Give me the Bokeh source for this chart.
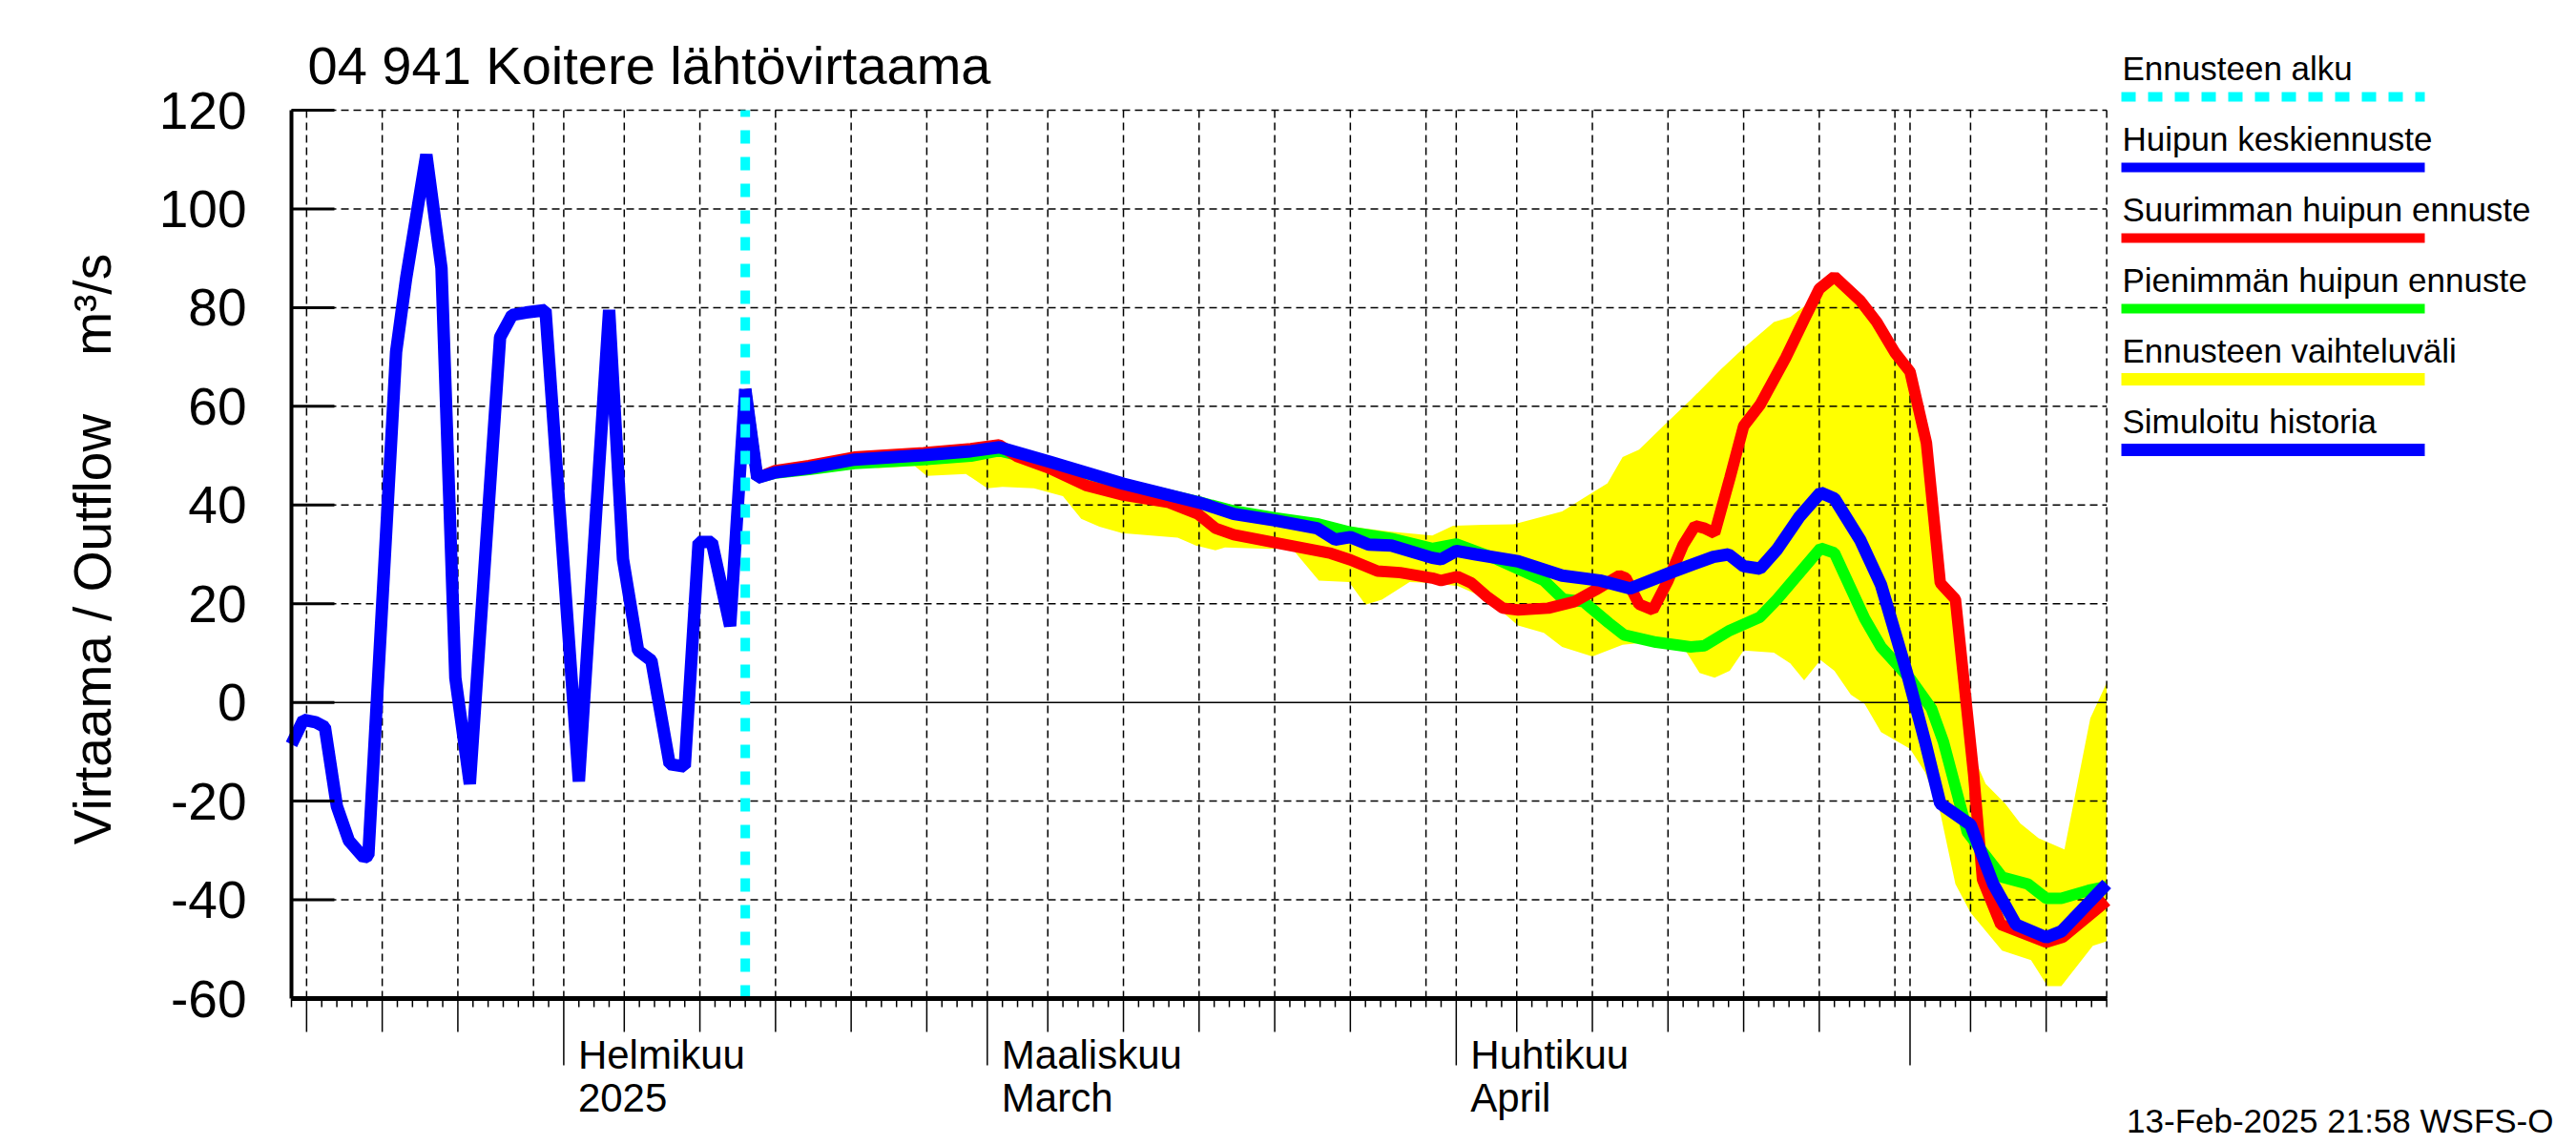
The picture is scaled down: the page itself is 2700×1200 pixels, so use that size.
import datetime as dt
from bokeh.plotting import figure
from bokeh.models import Range1d, FixedTicker
from bokeh.core.properties import value
from bokeh.embed import file_html
from bokeh.resources import INLINE

# ---------------- texts ----------------
TITLE = "04 941 Koitere lähtövirtaama"
Y_LABEL = "\u00a0\u00a0\u00a0Virtaama / Outflow\u00a0\u00a0\u00a0\u00a0m³/s"
STAMP = "13-Feb-2025 21:58 WSFS-O"
LEGEND_LABELS = ["Ennusteen alku", "Huipun keskiennuste", "Suurimman huipun ennuste",
                 "Pienimmän huipun ennuste", "Ennusteen vaihteluväli", "Simuloitu historia"]
MONTH_TICKS = ["02-01 00:00", "03-01 00:00", "04-01 00:00"]
MONTH_LINE1 = ["Helmikuu", "Maaliskuu", "Huhtikuu"]
MONTH_LINE2 = ["2025", "March", "April"]
Y_TICKS = [-60, -40, -20, 0, 20, 40, 60, 80, 100, 120]
START = "01-14 00:00"
END = "05-14 00:00"
FORECAST_START = "02-13 00:00"

# ---------------- data ----------------
hist_time = ["01-14 00:00", "01-14 19:00", "01-15 14:00", "01-16 05:00", "01-17 00:00", "01-17 19:00",
             "01-18 19:00", "01-19 02:00", "01-20 22:00", "01-21 14:00", "01-22 22:00", "01-23 22:00",
             "01-24 20:00", "01-25 19:00", "01-27 19:00", "01-28 14:00", "01-29 12:00", "01-30 19:00",
             "02-02 00:00", "02-04 00:00", "02-04 22:00", "02-05 22:00", "02-06 19:00", "02-08 00:00",
             "02-09 00:00", "02-09 22:00", "02-10 19:00", "02-12 00:00", "02-13 00:00"]
hist_flow = [-8.5, -3.5, -4.0, -5.0, -21, -28, -31.5, -31, 71, 86, 111, 88, 5, -16.5, 74, 78.5, 79,
             79.5, -16, 79.5, 29, 10.5, 8.5, -12.5, -13, 32.5, 32.5, 15.5, 63.5]

mean_time = ["02-13 00:00", "02-13 19:00", "02-15 00:00", "02-17 05:00", "02-20 05:00", "02-24 19:00",
             "02-27 22:00", "03-01 19:00", "03-05 02:00", "03-10 00:00", "03-15 00:00", "03-17 07:00",
             "03-20 00:00", "03-22 19:00", "03-24 00:00", "03-25 00:00", "03-26 05:00", "03-27 17:00",
             "03-30 10:00", "03-31 00:00", "04-01 00:00", "04-02 07:00", "04-05 02:00", "04-08 00:00",
             "04-10 12:00", "04-12 12:00", "04-15 02:00", "04-18 00:00", "04-19 00:00", "04-20 00:00",
             "04-21 02:00", "04-22 05:00", "04-23 17:00", "04-25 02:00", "04-26 00:00", "04-27 17:00",
             "04-29 02:00", "04-30 19:00", "05-02 00:00", "05-03 00:00", "05-05 00:00", "05-06 12:00",
             "05-08 00:00", "05-10 00:00", "05-11 00:00", "05-14 00:00"]
mean_flow = [63.5, 45.5, 46.6, 47.5, 49.2, 50.1, 50.9, 51.7, 48.8, 44.3, 40.5, 38.2, 36.9, 35.3, 33.0,
             33.5, 32.0, 31.8, 29.3, 29.0, 30.7, 30.0, 28.6, 25.7, 24.7, 23.1, 26.2, 29.5, 30.0, 27.6,
             27.1, 31.0, 37.7, 42.5, 41.3, 32.9, 23.8, 6.0, -8.0, -20.5, -24.8, -36.8, -45.0, -47.6,
             -46.4, -36.8]

max_time = ["02-13 00:00", "02-13 19:00", "02-15 00:00", "02-17 05:00", "02-20 05:00", "02-24 19:00",
            "02-27 22:00", "03-01 19:00", "03-03 00:00", "03-05 02:00", "03-07 12:00", "03-10 00:00",
            "03-13 00:00", "03-14 22:00", "03-16 02:00", "03-17 07:00", "03-20 00:00", "03-23 17:00",
            "03-25 00:00", "03-26 19:00", "03-28 07:00", "03-30 10:00", "03-31 00:00", "04-01 02:00",
            "04-02 00:00", "04-03 02:00", "04-04 02:00", "04-05 02:00", "04-07 02:00", "04-08 19:00",
            "04-10 05:00", "04-11 19:00", "04-12 05:00", "04-13 02:00", "04-14 00:00", "04-15 00:00",
            "04-16 00:00", "04-16 19:00", "04-17 10:00", "04-18 02:00", "04-19 02:00", "04-20 00:00",
            "04-21 02:00", "04-22 19:00", "04-24 00:00", "04-25 00:00", "04-26 00:00", "04-27 17:00",
            "04-28 19:00", "04-30 00:00", "05-01 00:00", "05-02 02:00", "05-03 00:00", "05-04 00:00",
            "05-05 05:00", "05-05 19:00", "05-07 00:00", "05-10 00:00", "05-11 02:00", "05-14 00:00"]
max_flow = [63.5, 45.5, 47.0, 48.0, 49.7, 50.6, 51.4, 52.2, 49.8, 47.5, 44.0, 42.0, 40.5, 38.2, 35.3,
            34.0, 32.4, 30.2, 28.9, 26.6, 26.3, 25.2, 24.7, 25.5, 24.2, 21.3, 19.1, 18.75, 19.1, 20.4,
            22.8, 25.7, 25.2, 19.9, 18.75, 24.7, 31.9, 35.8, 35.3, 34.3, 45.4, 56.0, 60.3, 69.9, 77.6,
            83.8, 86.3, 81.4, 77.1, 70.9, 67.0, 52.6, 24.2, 20.9, -14.7, -35.9, -45.0, -48.6, -47.6,
            -40.2]

min_time = ["02-13 00:00", "02-13 19:00", "02-15 00:00", "02-17 05:00", "02-20 05:00", "02-24 19:00",
            "02-27 22:00", "03-01 19:00", "03-05 02:00", "03-10 00:00", "03-15 00:00", "03-17 07:00",
            "03-20 00:00", "03-22 19:00", "03-25 00:00", "03-27 17:00", "03-30 10:00", "04-01 00:00",
            "04-03 17:00", "04-06 19:00", "04-08 02:00", "04-09 10:00", "04-11 02:00", "04-12 02:00",
            "04-14 05:00", "04-16 12:00", "04-17 10:00", "04-19 02:00", "04-21 02:00", "04-22 05:00",
            "04-25 02:00", "04-26 00:00", "04-28 00:00", "04-29 02:00", "05-01 02:00", "05-02 10:00",
            "05-03 05:00", "05-04 19:00", "05-07 02:00", "05-08 19:00", "05-10 00:00", "05-11 00:00",
            "05-12 19:00", "05-14 00:00"]
min_flow = [63.5, 45.5, 46.5, 47.2, 48.4, 49.2, 49.9, 51.0, 48.6, 44.2, 40.6, 38.8, 37.4, 36.2, 34.5,
            33.2, 31.2, 32.1, 29.0, 24.7, 20.9, 20.4, 16.1, 13.7, 12.2, 11.25, 11.5, 14.6, 17.3, 20.9,
            31.25, 30.3, 17.0, 11.25, 4.5, -1.25, -8.0, -26.3, -35.4, -36.8, -39.7, -39.7, -38.1, -37.3]

range_hi_time = ["02-13 00:00", "02-13 19:00", "02-15 00:00", "02-17 05:00", "02-20 05:00", "02-24 19:00",
                 "02-27 22:00", "03-01 19:00", "03-05 02:00", "03-10 00:00", "03-15 00:00", "03-17 07:00",
                 "03-20 00:00", "03-22 19:00", "03-25 00:00", "03-27 17:00", "03-30 10:00", "03-31 19:00",
                 "04-02 19:00", "04-04 19:00", "04-08 00:00", "04-10 00:00", "04-11 00:00", "04-12 00:00",
                 "04-13 02:00", "04-15 00:00", "04-16 12:00", "04-18 12:00", "04-20 00:00", "04-22 00:00",
                 "04-23 02:00", "04-24 12:00", "04-26 00:00", "04-27 17:00", "04-28 19:00", "04-30 00:00",
                 "05-01 00:00", "05-02 02:00", "05-03 00:00", "05-04 00:00", "05-04 14:00", "05-05 05:00",
                 "05-06 00:00", "05-07 07:00", "05-08 07:00", "05-09 12:00", "05-11 05:00", "05-12 22:00",
                 "05-14 00:00"]
range_hi = [63.5, 45.5, 47.3, 48.3, 50.0, 50.9, 51.7, 52.5, 49.3, 44.9, 41.1, 39.3, 38.2, 36.8, 35.6,
            34.6, 33.8, 35.8, 36.0, 36.1, 38.7, 42.5, 44.4, 49.7, 51.2, 56.9, 61.3, 67.5, 71.8, 77.1, 78.1,
            81.4, 86.8, 81.9, 77.6, 71.4, 67.5, 53.1, 24.7, 21.4, 5.0, -11.0, -16.5, -20.5, -24.5, -27.5,
            -29.8, -3.2, 4.0]

range_lo_time = ["02-13 00:00", "02-13 19:00", "02-15 00:00", "02-17 05:00", "02-20 05:00", "02-21 19:00",
                 "02-24 05:00", "02-25 00:00", "02-27 14:00", "03-01 00:00", "03-02 00:00", "03-04 02:00",
                 "03-06 00:00", "03-07 05:00", "03-08 10:00", "03-09 22:00", "03-13 14:00", "03-14 19:00",
                 "03-16 02:00", "03-16 17:00", "03-19 17:00", "03-21 02:00", "03-22 22:00", "03-24 22:00",
                 "03-26 00:00", "03-27 02:00", "03-28 22:00", "03-30 10:00", "04-01 02:00", "04-03 02:00",
                 "04-05 02:00", "04-06 19:00", "04-08 00:00", "04-10 00:00", "04-12 00:00", "04-13 17:00",
                 "04-16 00:00", "04-17 02:00", "04-18 02:00", "04-19 02:00", "04-20 00:00", "04-22 00:00",
                 "04-23 02:00", "04-24 00:00", "04-25 02:00", "04-26 00:00", "04-27 02:00", "04-28 00:00",
                 "04-29 02:00", "05-01 00:00", "05-02 00:00", "05-03 00:00", "05-04 00:00", "05-05 00:00",
                 "05-07 02:00", "05-09 00:00", "05-10 02:00", "05-11 00:00", "05-13 02:00", "05-14 00:00"]
range_lo = [63.5, 45.5, 46.4, 47.0, 48.2, 47.5, 47.9, 45.9, 46.3, 43.4, 43.7, 43.4, 41.8, 37.2, 35.6,
            34.3, 33.4, 31.8, 30.8, 31.4, 31.1, 31.4, 24.7, 24.4, 19.8, 20.8, 24.4, 24.2, 23.6, 20.9,
            15.6, 14.1, 11.25, 9.3, 11.7, 12.2, 11.25, 6.0, 5.0, 6.4, 10.5, 10.1, 7.9, 4.5, 8.6, 6.4,
            1.6, -0.3, -6.0, -9.4, -14.2, -22.4, -36.8, -42.6, -50.3, -52.2, -57.5, -57.5, -49.3, -48.4]

# ---------------- colours / fonts ----------------
BLUE, RED, GREEN, YELLOW, CYAN = "#0000ff", "#ff0000", "#00ff00", "#ffff00", "#00ffff"
FONT_NAME = "Liberation Sans"
FONT = value(FONT_NAME)


def parse(s):
    return dt.datetime.strptime("2025-" + s, "%Y-%m-%d %H:%M")


T0, T1, TF = parse(START), parse(END), parse(FORECAST_START)

# ---------------- layout (page pixel coordinates) ----------------
FIG_W, FIG_H = 2696, 1196
FRAME_L = 288            # left edge of drawing frame
X0_PX = 305              # where START sits
X1_PX = 2207.6           # where END sits
Y_TOP_PX, Y_BOT_PX = 115, 1046  # where 120 and -60 sit
Y_MAX, Y_MIN = Y_TICKS[-1], Y_TICKS[0]
PX_PER_DAY = (X1_PX - X0_PX) / ((T1 - T0).total_seconds() / 86400)
PX_PER_UNIT = (Y_BOT_PX - Y_TOP_PX) / (Y_MAX - Y_MIN)
BASELINE_SHIFT = 0.35    # text glyph baseline correction, in em


def xdate(px):
    return T0 + dt.timedelta(days=(px - X0_PX) / PX_PER_DAY)


def dpx(px):
    return dt.timedelta(days=px / PX_PER_DAY)


def yval(py):
    return Y_MAX - (py - Y_TOP_PX) / PX_PER_UNIT


def ytext(py, size):
    return yval(py - BASELINE_SHIFT * size)


p = figure(width=FIG_W, height=FIG_H,
           x_range=Range1d(xdate(FRAME_L), xdate(FIG_W)),
           y_range=Range1d(yval(FIG_H), yval(0)),
           x_axis_location=None, y_axis_location="left",
           output_backend="svg", toolbar_location=None,
           min_border_left=FRAME_L, min_border_right=0, min_border_top=0, min_border_bottom=0)
p.outline_line_color = None
p.grid.grid_line_color = None
p.background_fill_color = "white"
p.border_fill_color = "white"

ax = p.yaxis[0]
ax.ticker = FixedTicker(ticks=Y_TICKS)
ax.major_label_overrides = {v: str(v) for v in Y_TICKS}
ax.axis_line_color = None
ax.major_tick_line_color = None
ax.major_tick_in = 0
ax.major_tick_out = 0
ax.minor_tick_line_color = None
ax.minor_tick_in = 0
ax.minor_tick_out = 0
ax.major_label_text_font = FONT_NAME
ax.major_label_text_font_size = "55px"
ax.major_label_text_color = "black"
ax.major_label_standoff = FRAME_L - 258
ax.axis_label = Y_LABEL
ax.axis_label_text_font = FONT_NAME
ax.axis_label_text_font_size = "55px"
ax.axis_label_text_font_style = "normal"
ax.axis_label_text_color = "black"
ax.axis_label_standoff = 36

# ---------------- forecast range band ----------------
hi_x = [parse(s) for s in range_hi_time]
lo_x = [parse(s) for s in range_lo_time]
p.patch(hi_x + lo_x[::-1], range_hi + range_lo[::-1], fill_color=YELLOW, line_color=None)

# ---------------- grid ----------------
days = [T0 + dt.timedelta(days=i) for i in range(int((T1 - T0).days) + 1)]
grid_days = [d for d in days if d.day in (1, 5, 10, 15, 20, 25, 30) and T0 < d < T1] + [T1]
p.segment(x0=grid_days, y0=[Y_MIN] * len(grid_days), x1=grid_days, y1=[Y_MAX] * len(grid_days),
          line_color="black", line_width=1.5, line_dash="8 5")
hgrid = [v for v in Y_TICKS if v not in (0, Y_MIN)]
p.segment(x0=[T0] * len(hgrid), y0=hgrid, x1=[T1] * len(hgrid), y1=hgrid,
          line_color="black", line_width=1.5, line_dash="8 5")
p.segment(x0=[T0], y0=[0], x1=[T1], y1=[0], line_color="black", line_width=1.5)

# ---------------- series ----------------
p.line([parse(s) for s in min_time], min_flow, line_color=GREEN, line_width=12)
p.line([parse(s) for s in max_time], max_flow, line_color=RED, line_width=12)
p.line([parse(s) for s in mean_time], mean_flow, line_color=BLUE, line_width=13)
p.line([parse(s) for s in hist_time], hist_flow, line_color=BLUE, line_width=13)

# forecast start
p.segment(x0=[TF], y0=[Y_MIN], x1=[TF], y1=[Y_MAX], line_color=CYAN, line_width=10, line_dash="14 14")

# ---------------- axes drawn as frame lines ----------------
p.segment(x0=[T0] * len(Y_TICKS), y0=Y_TICKS, x1=[xdate(X0_PX + 45)] * len(Y_TICKS), y1=Y_TICKS,
          line_color="black", line_width=3)
p.segment(x0=[T0], y0=[Y_MIN], x1=[T0], y1=[Y_MAX], line_color="black", line_width=4)
p.segment(x0=[T0], y0=[Y_MIN], x1=[T1], y1=[Y_MIN], line_color="black", line_width=5)

tick_len = [70 if d.day == 1 else (35 if d.day in (5, 10, 15, 20, 25) else 9) for d in days]
p.segment(x0=days, y0=[Y_MIN] * len(days), x1=days, y1=[yval(Y_BOT_PX + L) for L in tick_len],
          line_color="black", line_width=1.5)

# month labels
mx = [parse(s) + dpx(15) for s in MONTH_TICKS]
p.text(x=mx, y=[ytext(1120, 42)] * len(mx), text=MONTH_LINE1, text_font=FONT,
       text_font_size=value("42px"), text_align="left", text_baseline="alphabetic", text_color="black")
p.text(x=mx, y=[ytext(1165, 42)] * len(mx), text=MONTH_LINE2, text_font=FONT,
       text_font_size=value("42px"), text_align="left", text_baseline="alphabetic", text_color="black")

# title
p.text(x=[xdate(322)], y=[ytext(88, 56)], text=[TITLE], text_font=FONT, text_font_size=value("56px"),
       text_align="left", text_baseline="alphabetic", text_color="black")

# timestamp
p.text(x=[xdate(2676)], y=[ytext(1186, 35)], text=[STAMP], text_font=FONT, text_font_size=value("35px"),
       text_align="right", text_baseline="alphabetic", text_color="black")

# ---------------- legend ----------------
LEG_TEXT_X, LEG_X0, LEG_X1 = 2224, 2223, 2541
leg_base = [83 + 74 * i for i in range(len(LEGEND_LABELS))]
p.text(x=[xdate(LEG_TEXT_X)] * len(LEGEND_LABELS), y=[ytext(b, 35) for b in leg_base], text=LEGEND_LABELS,
       text_font=FONT, text_font_size=value("35px"), text_align="left", text_baseline="alphabetic",
       text_color="black")
leg_colors = [CYAN, BLUE, RED, GREEN, YELLOW, BLUE]
leg_widths = [10, 10, 10, 10, 13, 13]
for i, (c, w) in enumerate(zip(leg_colors, leg_widths)):
    yy = yval(leg_base[i] + 18)
    p.segment(x0=[xdate(LEG_X0)], y0=[yy], x1=[xdate(LEG_X1)], y1=[yy], line_color=c, line_width=w,
              line_dash="15 13" if i == 0 else "solid")

open("out.html", "w").write(file_html(p, INLINE))
